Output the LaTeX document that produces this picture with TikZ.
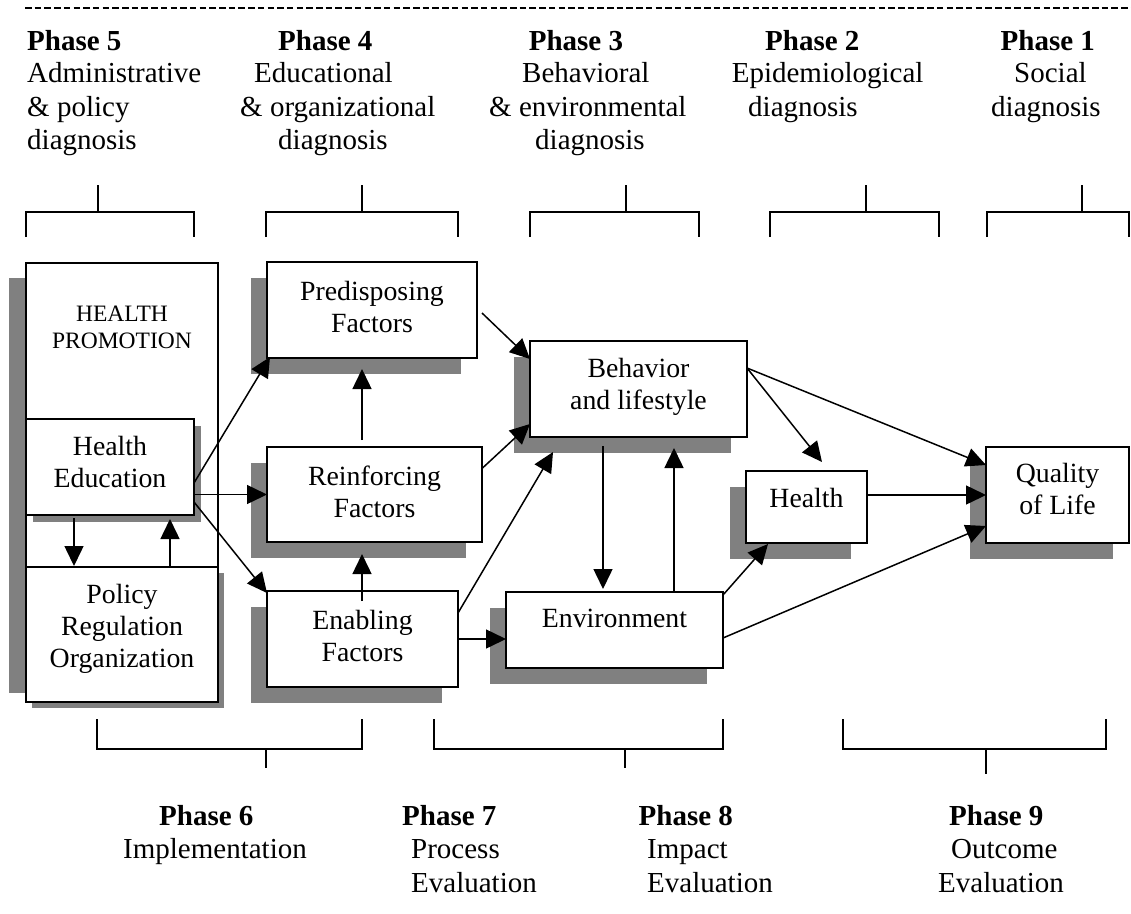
\documentclass[tikz,border=0pt]{standalone}
\usepackage{fontspec}
\setmainfont{Liberation Serif}
\usetikzlibrary{arrows.meta,shadows,calc}
\newcommand\boxtxt[4]{\parbox[t][#2pt][t]{#1pt}{\centering\rule{0pt}{#3pt}#4\par}}
\tikzset{
  mybox/.style={draw, line width=1.8pt, fill=white, inner sep=0pt, outer sep=0pt, anchor=north west,
    font=\fontsize{27.8}{32}\selectfont},
  lshad/.style={drop shadow={shadow xshift=-16pt, shadow yshift=-16pt, fill=gray, opacity=1}},
  arr/.style={line width=1.5pt, -{Triangle[length=20pt,width=19pt]}},
  brk/.style={line width=2pt},
  hd/.style={inner sep=0pt, anchor=base west, font=\fontsize{29}{33}\selectfont},
}
\begin{document}
\begin{tikzpicture}[x=1pt,y=-1pt]
\useasboundingbox (0,0) rectangle (1131,913);
% top dashed rule
\draw[line width=1.8pt, dash pattern=on 6.5pt off 3.2pt] (25,8) -- (1131,8);

% top headings
\node[hd] (h5a) at (27,50) {\textbf{Phase 5}};
\node[hd] (h5b) at (27,82) {Administrative};
\node[hd] (h5c) at (27,116.5) {\& policy};
\node[hd] (h5d) at (27,149) {diagnosis};
\node[hd] (h4a) at (278,50) {\textbf{Phase 4}};
\node[hd] (h4b) at (254,82) {Educational};
\node[hd] (h4c) at (240,116.5) {\& organizational};
\node[hd] (h4d) at (278,149) {diagnosis};
\node[hd] (h3a) at (528.6,50) {\textbf{Phase 3}};
\node[hd] (h3b) at (522,82) {Behavioral};
\node[hd] (h3c) at (489,116.5) {\& environmental};
\node[hd] (h3d) at (535,149) {diagnosis};
\node[hd] (h2a) at (765,50) {\textbf{Phase 2}};
\node[hd] (h2b) at (731.6,82) {Epidemiological};
\node[hd] (h2c) at (748,116.5) {diagnosis};
\node[hd] (h1a) at (1000.5,50) {\textbf{Phase 1}};
\node[hd] (h1b) at (1014,82) {Social};
\node[hd] (h1c) at (991,116.5) {diagnosis};

% top brackets
\draw[brk] (26,237) -- (26,212) -- (194,212) -- (194,237) (98,212) -- (98,185);
\draw[brk] (266,237) -- (266,212) -- (458,212) -- (458,237) (362,212) -- (362,185);
\draw[brk] (530,237) -- (530,212) -- (699,212) -- (699,237) (626,212) -- (626,185);
\draw[brk] (770,237) -- (770,212) -- (939,212) -- (939,237) (866,212) -- (866,185);
\draw[brk] (987,237) -- (987,212) -- (1129,212) -- (1129,237) (1082,212) -- (1082,185);

% left column
\node[mybox, drop shadow={shadow xshift=-17pt, shadow yshift=-15pt, fill=gray, opacity=1},
  font=\fontsize{23.5}{27.6}\selectfont] (hp) at (26,263) {\boxtxt{192}{415}{58}{HEALTH\\PROMOTION}};
\node[mybox, drop shadow={shadow xshift=7pt, shadow yshift=-7pt, fill=gray, opacity=1}] (he) at (26,419)
  {\boxtxt{168}{96}{36}{Health\\Education}};
\node[mybox, drop shadow={shadow xshift=6pt, shadow yshift=-6pt, fill=gray, opacity=1}] (pol) at (26,567)
  {\boxtxt{192}{135}{36}{Policy\\Regulation\\Organization}};

% factor boxes
\node[mybox, lshad] (pre) at (267,262) {\boxtxt{210}{96}{38}{Predisposing\\Factors}};
\node[mybox, lshad] (rei) at (267,447) {\boxtxt{215}{95}{38}{Reinforcing\\Factors}};
\node[mybox, lshad] (ena) at (267,591) {\boxtxt{191}{96}{38}{Enabling\\Factors}};

% right boxes
\node[mybox, lshad] (beh) at (530,341) {\boxtxt{217}{96}{36}{Behavior\\and lifestyle}};
\node[mybox, lshad] (env) at (506,592) {\boxtxt{217}{76}{35}{Environment}};
\node[mybox, lshad] (hea) at (746,471) {\boxtxt{121}{72}{36}{Health}};
\node[mybox, lshad] (qol) at (986,447) {\boxtxt{143}{96}{35}{Quality\\of Life}};

% arrows
\draw[arr] ($(he.east)+(0,16)$) -- ($(pre.south west)+(3,-1)$);
\draw[arr] (he.east |- rei.west) -- (rei.west);
\draw[arr] ($(he.east)+(0,35)$) -- ($(ena.north west)+(0,2)$);
\draw[arr] ($(rei.north west)+(95,-7)$) -- ($(pre.south west)+(95,11)$);
\draw[arr] ($(ena.north west)+(95,10)$) -- ($(rei.south west)+(95,12)$);
\draw[arr] ($(he.south west)+(48,3)$) -- ($(pol.north west)+(48,-1)$);
\draw[arr] ($(pol.north west)+(144,0)$) -- ($(he.south west)+(144,4)$);
\draw[arr] ($(pre.east)+(5,3)$) -- ($(beh.north west)+(0,18)$);
\draw[arr] ($(rei.east)+(0,-26)$) -- ($(beh.south west)+(0,-13)$);
\draw[arr] ($(ena.east)+(0,-26)$) -- ($(beh.south west)+(23,15)$);
\draw[arr] ($(beh.south west)+(73,9)$) -- ($(env.north west)+(97,-3)$);
\draw[arr] ($(env.north west)+(168,0)$) -- ($(beh.south west)+(144,11)$);
\draw[arr] (ena.east) -- (ena.east -| env.west);
\draw[arr] ($(beh.north east)+(0,27)$) -- ($(hea.north west)+(76,-9)$);
\draw[arr] ($(beh.north east)+(0,27)$) -- ($(qol.north west)+(0,18)$);
\draw[arr] ($(hea.east)+(0,-12)$) -- (qol.west);
\draw[arr] ($(env.north east)+(0,3)$) -- ($(hea.south west)+(22,1)$);
\draw[arr] ($(env.north east)+(0,46)$) -- ($(qol.south west)+(0,-17)$);

% bottom brackets
\draw[brk] (97,719) -- (97,749) -- (362,749) -- (362,719) (266,749) -- (266,768);
\draw[brk] (434,719) -- (434,749) -- (723,749) -- (723,719) (625,749) -- (625,768);
\draw[brk] (843,719) -- (843,749) -- (1106,749) -- (1106,719) (986,749) -- (986,774);

% bottom headings
\node[hd] (h6a) at (159,825) {\textbf{Phase 6}};
\node[hd] (h6b) at (123,858) {Implementation};
\node[hd] (h7a) at (402,825) {\textbf{Phase 7}};
\node[hd] (h7b) at (411,858) {Process};
\node[hd] (h7c) at (411,892) {Evaluation};
\node[hd] (h8a) at (638.5,825) {\textbf{Phase 8}};
\node[hd] (h8b) at (647,858) {Impact};
\node[hd] (h8c) at (647,892) {Evaluation};
\node[hd] (h9a) at (949,825) {\textbf{Phase 9}};
\node[hd] (h9b) at (951,858) {Outcome};
\node[hd] (h9c) at (938,892) {Evaluation};
\end{tikzpicture}
\end{document}
